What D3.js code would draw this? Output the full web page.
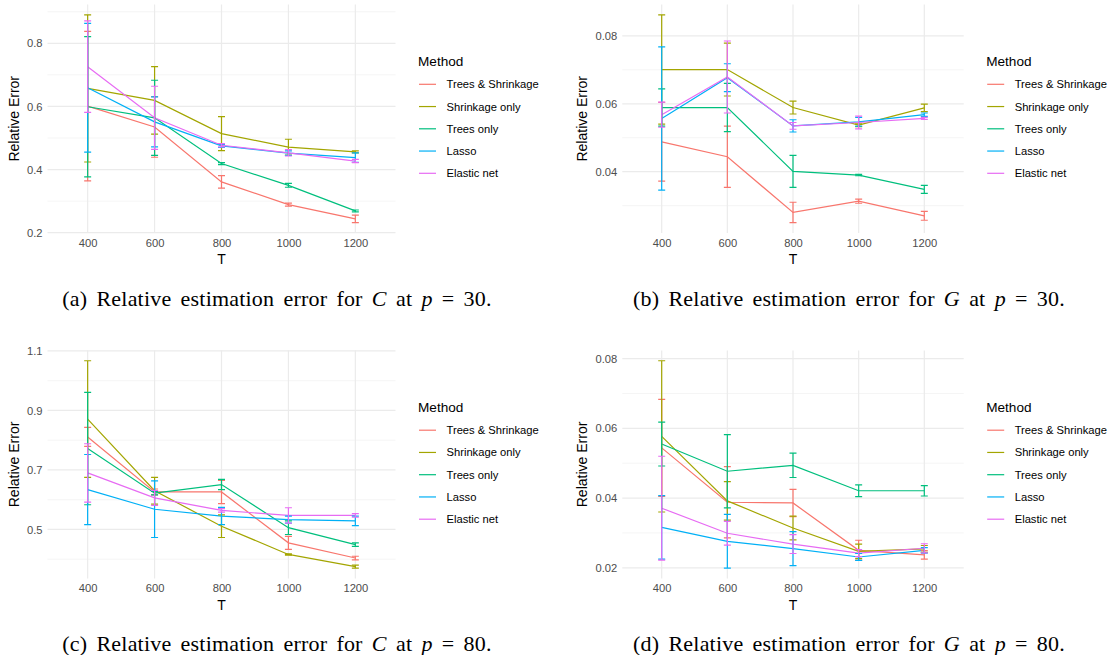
<!DOCTYPE html>
<html>
<head>
<meta charset="utf-8">
<script src="https://cdn.jsdelivr.net/npm/d3@7"></script>
<style>
  body { margin: 0; background: #fff; }
  svg { display: block; }
</style>
</head>
<body>
<svg id="chart" width="1110" height="655"></svg>
<script>

// Categories
var sizes = [400, 600, 800, 1000, 1200];
var methods = ['Trees & Shrinkage', 'Shrinkage only', 'Trees only', 'Lasso', 'Elastic net'];
var colors = ['#F8766D', '#A3A500', '#00BF7D', '#00B0F6', '#E76BF3'];

/////////// Panel (a): C at p = 30 ///////////
var meanA = [
  [0.601, 0.535, 0.361, 0.289, 0.244],
  [0.657, 0.619, 0.514, 0.471, 0.456],
  [0.599, 0.564, 0.419, 0.350, 0.269],
  [0.659, 0.551, 0.475, 0.452, 0.438],
  [0.726, 0.564, 0.477, 0.453, 0.427]
];
var errA = [
  [0.237, 0.096, 0.020, 0.005, 0.012],
  [0.233, 0.107, 0.054, 0.025, 0.003],
  [0.222, 0.119, 0.003, 0.006, 0.003],
  [0.204, 0.079, 0.005, 0.007, 0.015],
  [0.145, 0.100, 0.005, 0.010, 0.005]
];
var ticksA = [0.2, 0.4, 0.6, 0.8];

/////////// Panel (b): G at p = 30 ///////////
var meanB = [
  [0.0488, 0.0444, 0.0280, 0.0313, 0.0270],
  [0.0701, 0.0701, 0.0589, 0.0537, 0.0588],
  [0.0589, 0.0589, 0.0401, 0.0390, 0.0348],
  [0.0557, 0.0677, 0.0535, 0.0547, 0.0568],
  [0.0568, 0.0679, 0.0535, 0.0545, 0.0557]
];
var errB = [
  [0.0116, 0.0090, 0.0030, 0.0006, 0.0013],
  [0.0161, 0.0078, 0.0019, 0.0004, 0.0011],
  [0.0055, 0.0071, 0.0047, 0.0002, 0.0012],
  [0.0211, 0.0041, 0.0018, 0.0013, 0.0005],
  [0.0037, 0.0106, 0.0010, 0.0019, 0.0003]
];
var ticksB = [0.04, 0.06, 0.08];

/////////// Panel (c): C at p = 80 ///////////
var meanC = [
  [0.811, 0.626, 0.626, 0.455, 0.404],
  [0.871, 0.630, 0.511, 0.416, 0.375],
  [0.772, 0.622, 0.651, 0.506, 0.449],
  [0.634, 0.568, 0.545, 0.533, 0.529],
  [0.690, 0.606, 0.564, 0.547, 0.547]
];
var errC = [
  [0.032, 0.010, 0.039, 0.022, 0.006],
  [0.196, 0.045, 0.038, 0.002, 0.005],
  [0.189, 0.006, 0.017, 0.023, 0.006],
  [0.118, 0.095, 0.029, 0.012, 0.016],
  [0.098, 0.025, 0.006, 0.026, 0.006]
];
var ticksC = [0.5, 0.7, 0.9, 1.1];

/////////// Panel (d): G at p = 80 ///////////
var meanD = [
  [0.0544, 0.0388, 0.0386, 0.0250, 0.0237],
  [0.0577, 0.0392, 0.0314, 0.0247, 0.0254],
  [0.0555, 0.0477, 0.0494, 0.0421, 0.0421],
  [0.0316, 0.0276, 0.0255, 0.0231, 0.0250],
  [0.0371, 0.0299, 0.0268, 0.0242, 0.0256]
];
var errD = [
  [0.0139, 0.0102, 0.0039, 0.0029, 0.0012],
  [0.0217, 0.0055, 0.0034, 0.0021, 0.0010],
  [0.0063, 0.0105, 0.0035, 0.0017, 0.0015],
  [0.0091, 0.0077, 0.0049, 0.0010, 0.0008],
  [0.0149, 0.0034, 0.0027, 0.0010, 0.0013]
];
var ticksD = [0.02, 0.04, 0.06, 0.08];

// Panel captions
var captions = [
  ['(a) Relative estimation error for ', 'C', ' at ', 'p', ' = 30.'],
  ['(b) Relative estimation error for ', 'G', ' at ', 'p', ' = 30.'],
  ['(c) Relative estimation error for ', 'C', ' at ', 'p', ' = 80.'],
  ['(d) Relative estimation error for ', 'G', ' at ', 'p', ' = 80.']
];

var svg = d3.select('#chart');
var sans = 'Liberation Sans, Arial, sans-serif';

// Build one ggplot-like panel
function drawPanel(box, means, errs, ticks, caption) {
  var g = svg.append('g');

  // y domain from the error bar extents, 5% expansion like ggplot
  var lo = d3.min(means, function(row, i) { return d3.min(row, function(v, j) { return v - errs[i][j]; }); });
  var hi = d3.max(means, function(row, i) { return d3.max(row, function(v, j) { return v + errs[i][j]; }); });
  var pad = (hi - lo) * 0.05;

  var x = d3.scalePoint().domain(sizes).range([box.x0, box.x1]).padding(0.6);
  var y = d3.scaleLinear().domain([lo - pad, hi + pad]).range([box.y1, box.y0]);

  // minor breaks halfway between majors (and one step outside if still in range)
  var step = ticks[1] - ticks[0];
  var minor = [ticks[0] - step / 2].concat(ticks.map(function(t) { return t + step / 2; }))
    .filter(function(v) { return v >= y.domain()[0] && v <= y.domain()[1]; });

  g.selectAll('.minor').data(minor).enter().append('line')
    .attr('x1', box.x0).attr('x2', box.x1)
    .attr('y1', function(d) { return y(d); }).attr('y2', function(d) { return y(d); })
    .attr('stroke', '#f2f2f2').attr('stroke-width', 0.8);

  g.selectAll('.majorY').data(ticks).enter().append('line')
    .attr('x1', box.x0).attr('x2', box.x1)
    .attr('y1', function(d) { return y(d); }).attr('y2', function(d) { return y(d); })
    .attr('stroke', '#ebebeb').attr('stroke-width', 1.2);

  g.selectAll('.majorX').data(sizes).enter().append('line')
    .attr('x1', function(d) { return x(d); }).attr('x2', function(d) { return x(d); })
    .attr('y1', box.y0).attr('y2', box.y1)
    .attr('stroke', '#ebebeb').attr('stroke-width', 1.2);

  // axes (labels only, theme_minimal has no ticks or lines)
  var yAxis = g.append('g').attr('transform', 'translate(' + box.x0 + ',0)')
    .call(d3.axisLeft(y).tickValues(ticks).tickSize(0).tickPadding(5)
      .tickFormat(function(d) { return d3.format('.2~f')(d) === '1' ? '1.0' : d3.format('.2~f')(d); }));
  var xAxis = g.append('g').attr('transform', 'translate(0,' + box.y1 + ')')
    .call(d3.axisBottom(x).tickSize(0).tickPadding(6));
  [xAxis, yAxis].forEach(function(a) {
    a.select('.domain').remove();
    a.selectAll('text').attr('fill', '#4d4d4d').style('font-family', sans).style('font-size', '11.2px');
  });

  g.append('text').text('T')
    .attr('x', (box.x0 + box.x1) / 2).attr('y', box.y1 + 31)
    .attr('text-anchor', 'middle').style('font-family', sans).style('font-size', '14px');

  g.append('text').text('Relative Error')
    .attr('transform', 'translate(' + (box.x0 - box.titleGap) + ',' + ((box.y0 + box.y1) / 2) + ') rotate(-90)')
    .attr('text-anchor', 'middle').style('font-family', sans).style('font-size', '14px');

  // lines
  var line = d3.line().x(function(d) { return x(d.t); }).y(function(d) { return y(d.v); });
  methods.forEach(function(m, i) {
    var pts = sizes.map(function(t, j) { return {t: t, v: means[i][j]}; });
    g.append('path').datum(pts).attr('d', line)
      .attr('fill', 'none').attr('stroke', colors[i]).attr('stroke-width', 1.2);
  });

  // error bars
  methods.forEach(function(m, i) {
    sizes.forEach(function(t, j) {
      var top = y(means[i][j] + errs[i][j]);
      var bot = y(means[i][j] - errs[i][j]);
      var cx = x(t);
      var p = 'M' + (cx - 3.5) + ',' + top + 'H' + (cx + 3.5) +
              'M' + cx + ',' + top + 'V' + bot +
              'M' + (cx - 3.5) + ',' + bot + 'H' + (cx + 3.5);
      g.append('path').attr('d', p).attr('fill', 'none')
        .attr('stroke', colors[i]).attr('stroke-width', 1.2);
    });
  });

  // legend
  var lx = box.x1 + 22.5;
  g.append('text').text('Method')
    .attr('x', lx).attr('y', box.y0 + 61.5)
    .style('font-family', sans).style('font-size', '13.6px');
  methods.forEach(function(m, i) {
    var ly = box.y0 + 79.8 + i * 22.25;
    g.append('line').attr('x1', lx + 1).attr('x2', lx + 18).attr('y1', ly).attr('y2', ly)
      .attr('stroke', colors[i]).attr('stroke-width', 1.2);
    g.append('text').text(m).attr('x', lx + 28.5).attr('y', ly + 4)
      .style('font-family', sans).style('font-size', '11.2px');
  });

  // caption below the panel (LaTeX-like spacing)
  var cap = g.append('text')
    .attr('x', box.capX).attr('y', box.y1 + 72.5)
    .attr('text-anchor', 'middle')
    .style('font-family', 'Liberation Serif, Times New Roman, serif').style('font-size', '22px')
    .style('letter-spacing', '0.2px').style('word-spacing', '3.5px');
  caption.forEach(function(s, k) {
    var ts = cap.append('tspan').text(s);
    if (k === 1 || k === 3) ts.style('font-style', 'italic');
  });
}

drawPanel({x0: 47.5, x1: 395.5, y0: 4.5, y1: 233, titleGap: 29, capX: 277}, meanA, errA, ticksA, captions[0]);
drawPanel({x0: 622.3, x1: 963.7, y0: 4.5, y1: 233, titleGap: 35, capX: 849}, meanB, errB, ticksB, captions[1]);
drawPanel({x0: 47.5, x1: 395.5, y0: 350.4, y1: 578.5, titleGap: 29, capX: 277}, meanC, errC, ticksC, captions[2]);
drawPanel({x0: 622.3, x1: 963.7, y0: 350.4, y1: 578.5, titleGap: 35, capX: 849}, meanD, errD, ticksD, captions[3]);

</script>
</body>
</html>
